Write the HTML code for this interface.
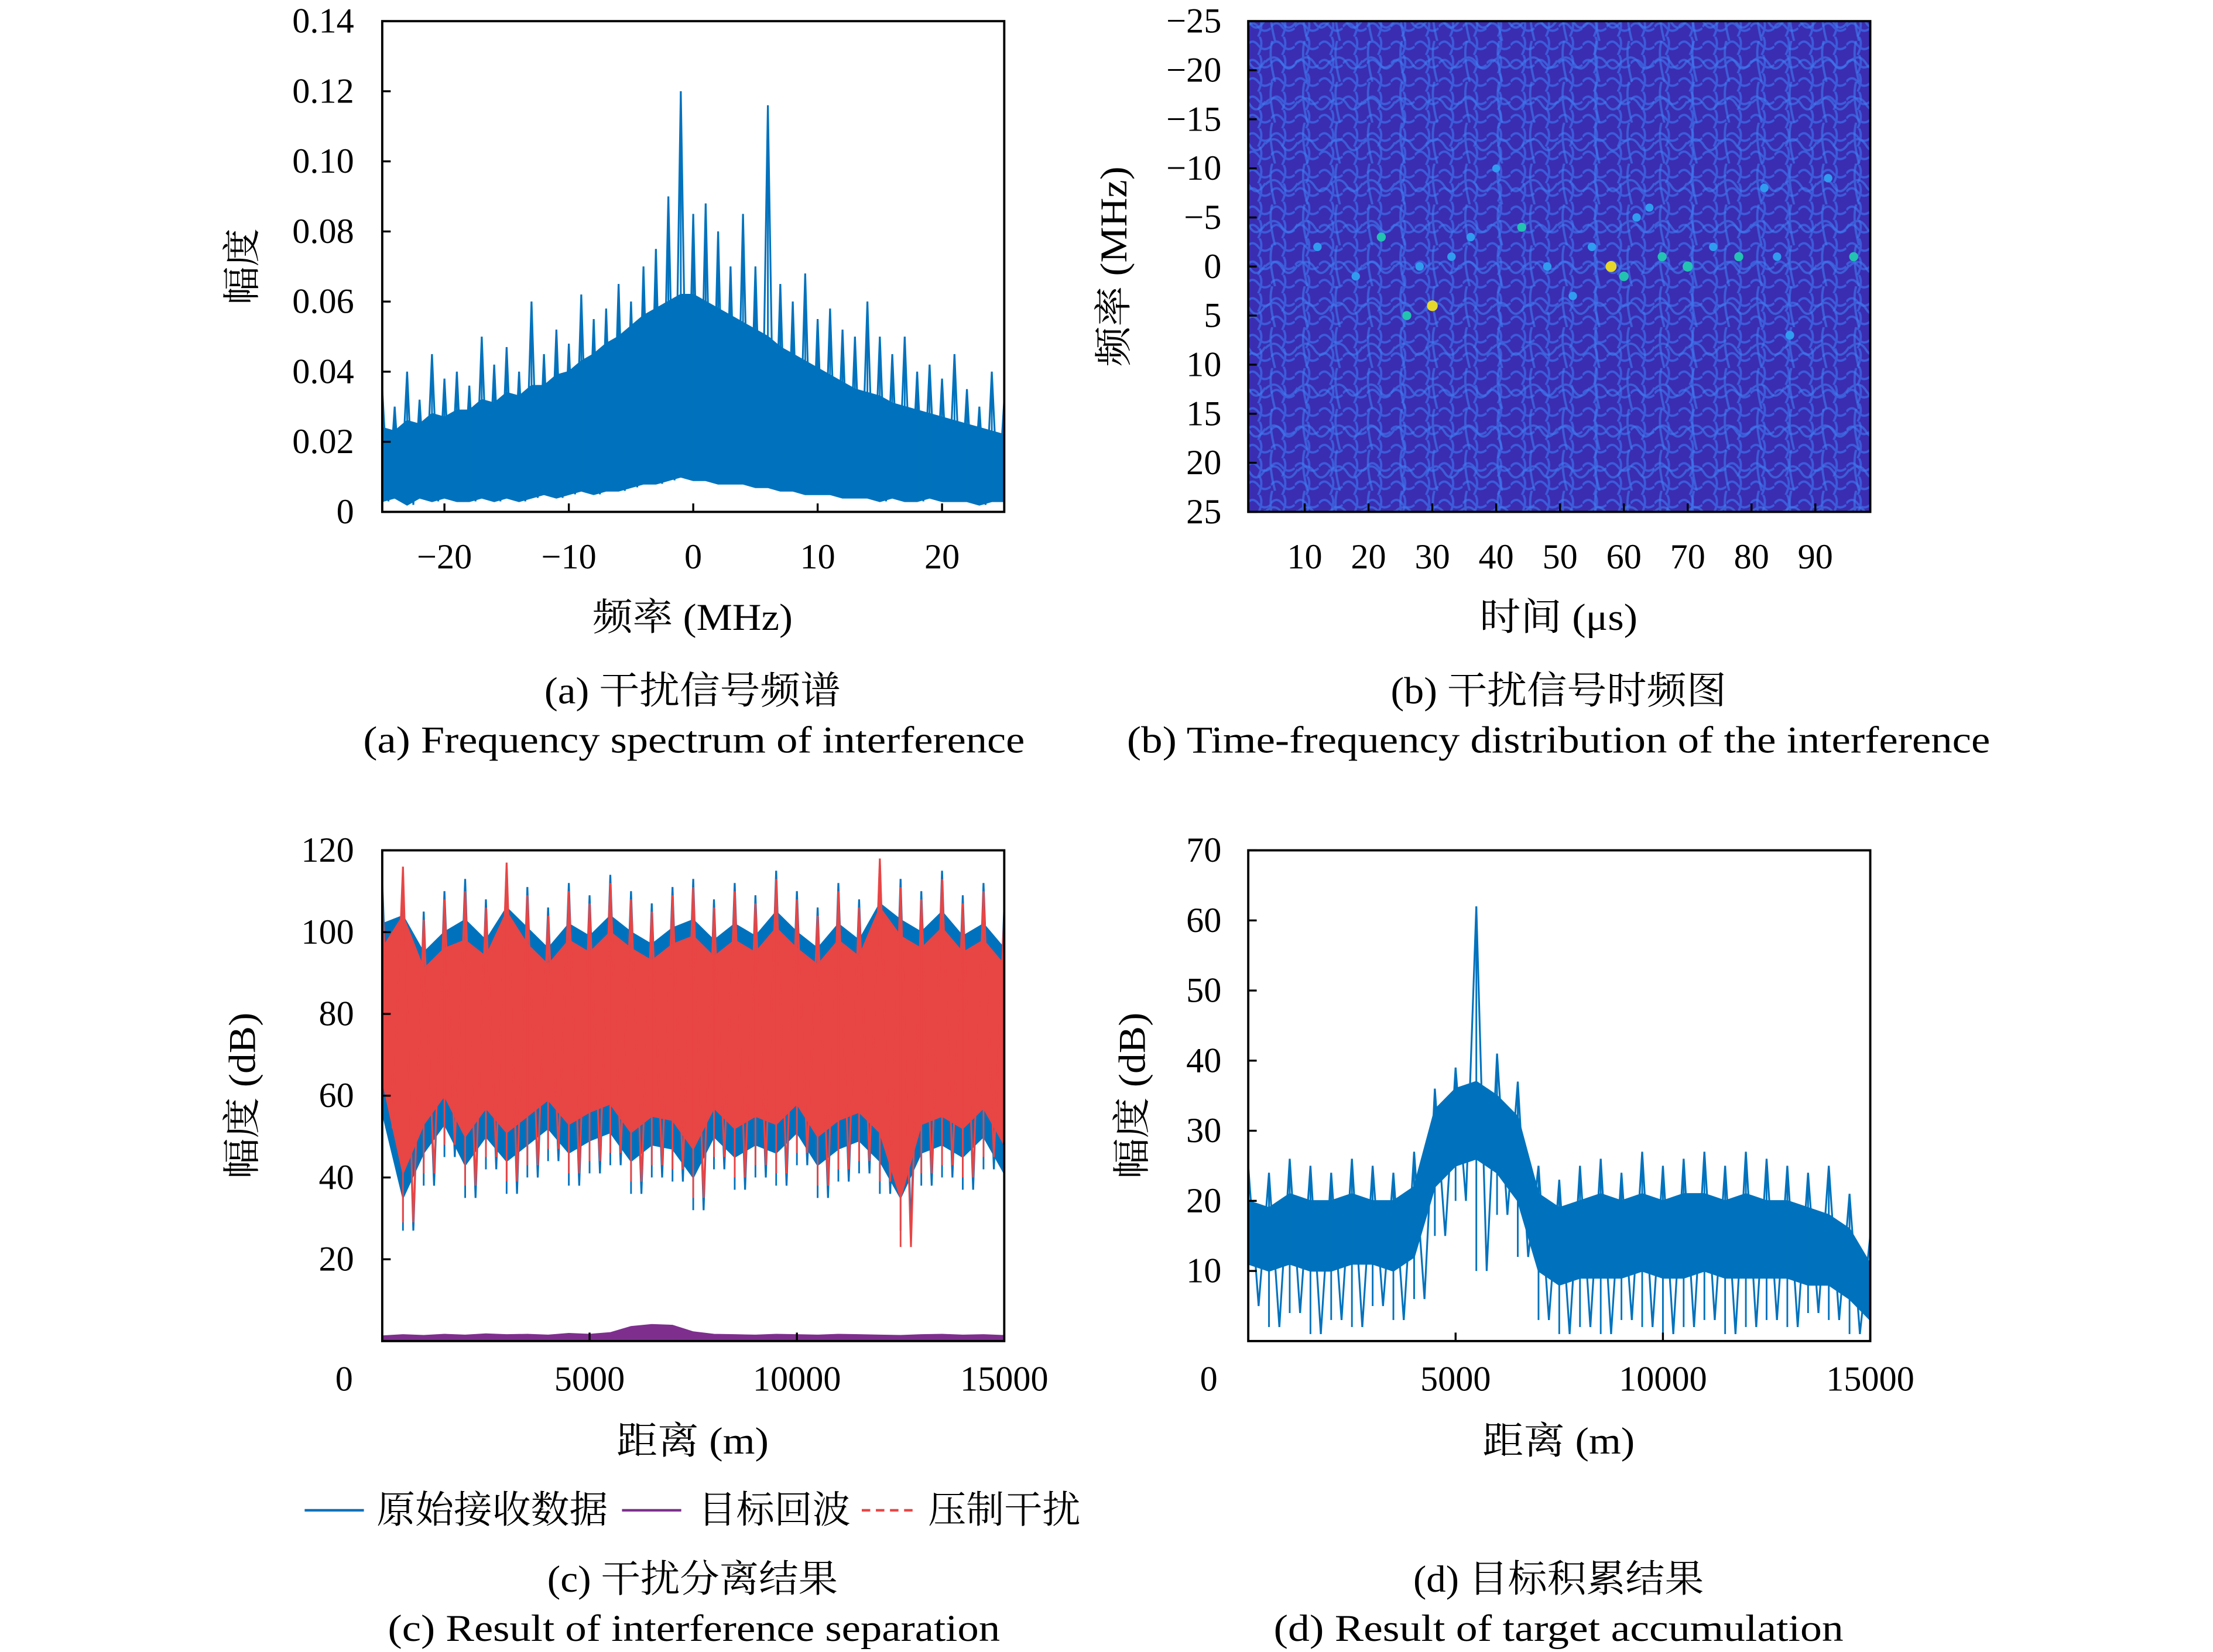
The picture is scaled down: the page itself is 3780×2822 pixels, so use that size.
<!DOCTYPE html>
<html><head><meta charset="utf-8"><style>
html,body{margin:0;padding:0;background:#fff}
svg{display:block}
text{font-family:"Liberation Serif","Noto Serif CJK SC","Noto Sans CJK SC",serif;fill:#000}
</style></head><body>
<svg id="fig" width="3780" height="2822" viewBox="0 0 1569 1171.5" preserveAspectRatio="none" xmlns="http://www.w3.org/2000/svg"></svg>
<script>
// ---- Panel (a) data: spectrum, 1 MHz steps from -25 to 25
const freqA = Array.from({length:51},(_, i)=>i-25);
const peakA = [0.035,0.03,0.04,0.032,0.045,0.038,0.04,0.036,0.05,0.042,0.047,0.04,0.06,0.045,0.052,0.048,0.062,0.055,0.058,0.065,0.06,0.07,0.075,0.09,0.12,0.085,0.088,0.08,0.07,0.085,0.07,0.116,0.065,0.06,0.068,0.055,0.058,0.052,0.05,0.06,0.05,0.045,0.05,0.04,0.042,0.038,0.045,0.035,0.03,0.04,0.032];
const lowA  = [0.003,0.004,0.002,0.004,0.003,0.004,0.003,0.003,0.004,0.003,0.004,0.003,0.004,0.005,0.004,0.005,0.006,0.005,0.006,0.006,0.007,0.008,0.008,0.009,0.01,0.009,0.009,0.008,0.008,0.008,0.007,0.007,0.006,0.006,0.005,0.005,0.005,0.004,0.004,0.004,0.003,0.004,0.003,0.003,0.004,0.003,0.003,0.003,0.002,0.003,0.003];
const bodyA = [0.024,0.023,0.026,0.025,0.028,0.027,0.029,0.029,0.032,0.031,0.034,0.033,0.036,0.036,0.039,0.04,0.043,0.045,0.048,0.05,0.053,0.056,0.058,0.06,0.062,0.062,0.06,0.058,0.056,0.054,0.052,0.05,0.047,0.045,0.043,0.041,0.039,0.037,0.035,0.034,0.033,0.031,0.03,0.029,0.028,0.027,0.026,0.025,0.024,0.023,0.022];
const yTicksA = [0,0.02,0.04,0.06,0.08,0.10,0.12,0.14];
const yTickLabelsA = ["0","0.02","0.04","0.06","0.08","0.10","0.12","0.14"];
const xTicksA = [-20,-10,0,10,20];
const xTickLabelsA = ["−20","−10","0","10","20"];
// ---- Panel (b) data: bright spots (time µs, freq MHz, intensity 0-1)
const spotT = [12,18,22,28,30,33,44,48,55,58,60,62,66,70,74,78,82,86,92,96,40,52,84,26,36,64];
const spotF = [-2,1,-3,0,4,-1,-4,0,-2,0,1,-5,-1,0,-2,-1,-8,7,-9,-1,-10,3,-1,5,-3,-6];
const spotV = [0.5,0.5,0.6,0.5,0.9,0.5,0.6,0.5,0.5,0.95,0.7,0.5,0.6,0.8,0.5,0.6,0.5,0.55,0.5,0.6,0.4,0.5,0.5,0.6,0.5,0.45];
const xTicksB = [10,20,30,40,50,60,70,80,90];
const yTicksB = [-25,-20,-15,-10,-5,0,5,10,15,20,25];
const yTickLabelsB = ["−25","−20","−15","−10","−5","0","5","10","15","20","25"];
// ---- Panel (c) data: 500 m steps
const rangeC = Array.from({length:31},(_, i)=>i*500);
const peakBlueC = [112,114,105,110,113,108,116,111,106,112,109,114,110,107,111,113,108,112,109,115,110,106,112,108,117,113,110,115,109,112,106];
const lowBlueC  = [48,27,38,45,35,42,36,40,44,38,41,43,36,40,39,32,42,37,40,38,43,35,39,41,36,27,38,40,37,42,33];
const peakRedC  = [108,116,103,108,110,106,117,109,104,110,107,112,108,105,109,111,106,110,107,113,108,104,110,106,118,111,108,113,107,110,104];
const lowRedC   = [52,29,41,48,38,45,39,43,47,41,44,46,39,43,42,35,45,40,43,41,46,38,42,44,39,23,41,43,40,45,36];
const targetC   = [1.2,1.5,1.3,1.6,1.4,1.7,1.5,1.6,1.4,1.8,1.6,2.0,3.5,4.0,3.8,2.2,1.6,1.5,1.4,1.6,1.5,1.4,1.6,1.5,1.4,1.3,1.5,1.6,1.4,1.5,1.3];
const yTicksC = [20,40,60,80,100,120];
const xTicksC = [5000,10000,15000];
// ---- Panel (d) data
const rangeD = Array.from({length:31},(_, i)=>i*500);
const peakD = [25,24,26,25,24,26,25,24,27,36,39,62,41,37,25,23,25,26,24,27,25,26,27,25,27,26,25,24,25,21,15];
const lowD  = [5,2,4,1,3,2,5,3,6,15,20,10,18,12,3,1,2,1,3,2,1,2,3,1,2,3,2,4,3,1,0];
const bodyHiD = [20,19,21,20,20,21,20,20,22,33,36,37,35,32,21,19,20,21,20,21,20,21,21,20,21,20,20,19,18,16,11];
const bodyLoD = [11,10,11,10,10,11,11,10,12,22,25,26,24,20,10,8,9,9,9,10,9,9,10,9,9,9,9,8,8,6,3];
const yTicksD = [10,20,30,40,50,60,70];
const xTicksD = [5000,10000,15000];

const NS="http://www.w3.org/2000/svg";
const svg=document.getElementById('fig');
function el(tag,attrs,parent){const e=document.createElementNS(NS,tag);for(const k in attrs)e.setAttribute(k,attrs[k]);(parent||svg).appendChild(e);return e;}
function txt(s,x,y,size,anchor,parent,rot,len){const t=el('text',{x:x,y:y,'font-size':size,'text-anchor':anchor||'middle','dominant-baseline':'central'},parent);if(len){t.setAttribute('textLength',len);t.setAttribute('lengthAdjust','spacingAndGlyphs');}if(rot)t.setAttribute('transform',`rotate(-90 ${x} ${y})`);t.textContent=s;return t;}
function lin(d0,d1,r0,r1){return v=>r0+(v-d0)/(d1-d0)*(r1-r0);}
const BLUE="#0072BD",RED="#E84545",PURP="#7E2F8E";

function frame(g,x0,y0,x1,y1){const r=el('rect',{x:x0,y:y0,width:x1-x0,height:y1-y0,fill:'none',stroke:'#000','stroke-width':1.6},g);}
function band(g,xs,lo,hi,X,Y,color,name){
  let pts=xs.map((v,i)=>X(v)+','+Y(hi[i])).concat(xs.slice().reverse().map((v,j)=>{const i=xs.length-1-j;return X(v)+','+Y(lo[i]);}));
  const p=el('polygon',{points:pts.join(' '),fill:color,stroke:color,'stroke-width':1},g);
  
}
function spikes(g,xs,lo,hi,X,Y,color,name){
  let pts=[];
  for(let i=0;i<xs.length;i++){
    pts.push(X(xs[i])+','+Y(hi[i]));
    if(i<xs.length-1){const xm=(xs[i]+xs[i+1])/2;pts.push(X(xm)+','+Y(lo[i]));}
  }
  const p=el('polyline',{points:pts.join(' '),fill:'none',stroke:color,'stroke-width':1.3},g);
  
  for(let i=0;i<xs.length;i++){
    const l=el('line',{x1:X(xs[i]),x2:X(xs[i]),y1:Y(hi[i]),y2:Y(lo[i]),stroke:color,'stroke-width':1.2},g);
    
  }
}
function yTicks(g,vals,labels,Y,x0,lx){
  vals.forEach((v,i)=>{
    const l=el('line',{x1:x0,x2:x0+6,y1:Y(v),y2:Y(v),stroke:'#000','stroke-width':1.4},g);
    
    const t=txt(labels[i],lx,Y(v),25,'end',g);
    
  });
}
function xTicks(g,vals,labels,X,y1,ly){
  vals.forEach((v,i)=>{
    const l=el('line',{x1:X(v),x2:X(v),y1:y1,y2:y1-6,stroke:'#000','stroke-width':1.4},g);
    
    const t=txt(labels[i],X(v),ly,25,'middle',g);
    
  });
}

// ===== Panel a =====
{
const g=el('g',{});
const X=lin(-25,25,271,712),Y=lin(0,0.14,363,15);
band(g,freqA,lowA,bodyA,X,Y,BLUE,'spectrum-body');
spikes(g,freqA,lowA,peakA,X,Y,BLUE,'spectrum-line');
frame(g,271,15,712,363);
yTicks(g,yTicksA,yTickLabelsA,Y,271,251);
xTicks(g,xTicksA,xTickLabelsA,X,363,395);
let t=txt('频率 (MHz)',491,438,27,'middle',g,false,142);
t=txt('幅度',172,189,27,'middle',g,true);
t=txt('(a) 干扰信号频谱',491,490,27,'middle',g,false,210);
t=txt('(a) Frequency spectrum of interference',492,525,27,'middle',g,false,469);
}
// ===== Panel b =====
{
const g=el('g',{});
const X=lin(1.16,98.6,885,1326),Y=lin(-25,25,15,363);
const defs=el('defs',{},g);
const cp=el('clipPath',{id:'clipB'},defs);el('rect',{x:885,y:15,width:441,height:348},cp);
const pat=el('pattern',{id:'netB',width:17,height:13,patternUnits:'userSpaceOnUse'},defs);
el('path',{d:'M0 6 Q4 1 8 6 T17 7 M9 0 Q12 5 8 13',fill:'none',stroke:'#3c6ae8','stroke-width':1.6,opacity:0.75},pat);
const pat2=el('pattern',{id:'netB2',width:23,height:29,patternUnits:'userSpaceOnUse'},defs);
el('path',{d:'M0 15 Q7 8 12 16 T23 14 M5 0 Q2 10 7 29',fill:'none',stroke:'#3f7df0','stroke-width':1.6,opacity:0.6},pat2);
const bg=el('rect',{x:885,y:15,width:441,height:348,fill:'#3a2db2'},g);

const n1=el('rect',{x:885,y:15,width:441,height:348,fill:'url(#netB)'},g);

const n2=el('rect',{x:885,y:15,width:441,height:348,fill:'url(#netB2)'},g);

const gc=el('g',{'clip-path':'url(#clipB)'},g);
spotT.forEach((tv,i)=>{
  const v=spotV[i];const col=v>0.85?'#e6d82a':(v>0.55?'#22c3b0':'#2f9cf0');
  const c=el('circle',{cx:X(tv),cy:Y(spotF[i]),r:2+v*2,fill:col},gc);
  
});
frame(g,885,15,1326,363);
yTicks(g,yTicksB,yTickLabelsB,Y,885,866);
xTicks(g,xTicksB,xTicksB.map(String),X,363,395);
let t=txt('时间 (μs)',1105,438,27,'middle',g,false,112);
t=txt('频率 (MHz)',790,189,27,'middle',g,true,142);
t=txt('(b) 干扰信号时频图',1105,490,27,'middle',g,false,238);
t=txt('(b) Time-frequency distribution of the interference',1105,525,27,'middle',g,false,612);
}
// ===== Panel c =====
{
const g=el('g',{});
const X=lin(0,15000,271,712),Y=lin(0,120,951,603);
const bodyLo=lowRedC.map(v=>v+12), bodyHi=peakRedC.map(v=>v-12);
band(g,rangeC,lowBlueC.map(v=>v+8),peakBlueC.map(v=>v-10),X,Y,BLUE,'received-body');
spikes(g,rangeC,lowBlueC,peakBlueC,X,Y,BLUE,'received-line');
band(g,rangeC,bodyLo,bodyHi,X,Y,RED,'jamming-body');
spikes(g,rangeC,lowRedC,peakRedC,X,Y,RED,'jamming-line');
band(g,rangeC,rangeC.map(()=>0),targetC,X,Y,PURP,'target-echo');
frame(g,271,603,712,951);
yTicks(g,yTicksC,yTicksC.map(String),Y,271,251);
xTicks(g,xTicksC,xTicksC.map(String),X,951,978);
let t=txt('0',244,978,25,'middle',g);
t=txt('距离 (m)',491,1022,27,'middle',g,false,108);
t=txt('幅度 (dB)',172,777,27,'middle',g,true,118);
const lg=el('g',{},g);
let l=el('line',{x1:216,x2:258,y1:1071,y2:1071,stroke:BLUE,'stroke-width':1.8},lg);
t=txt('原始接收数据',267,1071,27,'start',lg,false,164);
l=el('line',{x1:441,x2:483,y1:1071,y2:1071,stroke:PURP,'stroke-width':1.8},lg);
t=txt('目标回波',495,1071,27,'start',lg,false,108);
l=el('line',{x1:611,x2:650,y1:1071,y2:1071,stroke:RED,'stroke-width':1.8,'stroke-dasharray':'6 4'},lg);
t=txt('压制干扰',658,1071,27,'start',lg,false,108);
t=txt('(c) 干扰分离结果',491,1120,27,'middle',g,false,206);
t=txt('(c) Result of interference separation',492,1155,27,'middle',g,false,434);
}
// ===== Panel d =====
{
const g=el('g',{});
const X=lin(0,15000,885,1326),Y=lin(0,70,951,603);
band(g,rangeD,bodyLoD,bodyHiD,X,Y,BLUE,'accumulation-body');
spikes(g,rangeD,lowD,peakD,X,Y,BLUE,'accumulation-line');
frame(g,885,603,1326,951);
yTicks(g,yTicksD,yTicksD.map(String),Y,885,866);
xTicks(g,xTicksD,xTicksD.map(String),X,951,978);
let t=txt('0',857,978,25,'middle',g);
t=txt('距离 (m)',1105,1022,27,'middle',g,false,108);
t=txt('幅度 (dB)',803,777,27,'middle',g,true,118);
t=txt('(d) 目标积累结果',1105,1120,27,'middle',g,false,206);
t=txt('(d) Result of target accumulation',1105,1155,27,'middle',g,false,404);
}
</script>
</body></html>
